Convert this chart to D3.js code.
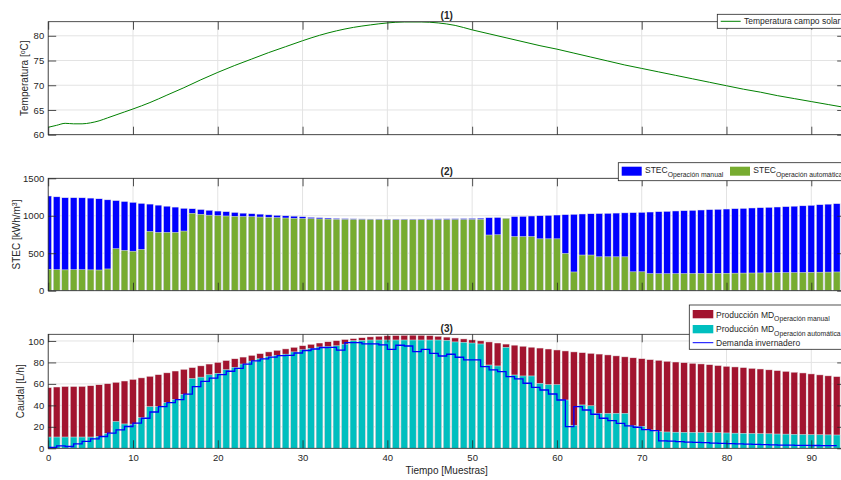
<!DOCTYPE html>
<html>
<head>
<meta charset="utf-8">
<script src="https://cdn.jsdelivr.net/npm/d3@7"></script>
<style>
body { margin: 0; overflow: hidden; background: #fff; }
text { font-family: "Liberation Sans", Arial, sans-serif; fill: #262626; }
</style>
</head>
<body>
<svg id="chart" width="841" height="480"></svg>
<script>
// (1) temperatura campo solar
var tempX = [0, 1, 2, 3, 4, 5, 6, 7, 8, 9, 10, 12, 14, 16, 18, 20, 22, 24, 26, 28, 30, 32, 34, 36, 38, 40,
             42, 44, 46, 48, 50, 52, 54, 56, 58, 60, 62, 64, 66, 68, 70, 72, 74, 76, 78, 80, 82, 84, 86, 88, 90, 92, 94];
var tempY = [61.5, 61.9, 62.3, 62.2, 62.2, 62.4, 62.8, 63.4, 64.0, 64.6, 65.2, 66.5, 68.0, 69.5, 71.1, 72.6, 74.0, 75.3, 76.6, 77.8, 79.0, 80.1, 81.0, 81.7, 82.2, 82.6,
             82.8, 82.8, 82.6, 82.1, 81.2, 80.4, 79.6, 78.8, 78.0, 77.3, 76.5, 75.7, 74.9, 74.1, 73.4, 72.7, 72.0, 71.3, 70.6, 69.9, 69.2, 68.6, 67.9, 67.3, 66.7, 66.1, 65.5];

// (2) STEC [kWh/m3], una barra por muestra
var stecManual = [1264, 1253, 1241, 1241, 1240, 1236, 1227, 1213, 1203, 1191,
                  1180, 1166, 1156, 1142, 1128, 1116, 1100, 1094, 1084, 1074,
                  1063, 1055, 1045, 1035, 1028, 1022, 1013, 1007, 1000, 995,
                  988, 980, 975, 970, 965, 962, 960, 958, 957, 957,
                  956, 956, 956, 956, 957, 958, 959, 960, 961, 963,
                  965, 968, 975, 978, 968, 990, 993, 997, 1001, 1006,
                  1010, 1015, 1020, 1024, 1027, 1030, 1033, 1036, 1039, 1042,
                  1046, 1050, 1055, 1059, 1064, 1068, 1073, 1077, 1082, 1086,
                  1090, 1095, 1099, 1104, 1108, 1113, 1117, 1122, 1128, 1133,
                  1140, 1148, 1155, 1162];
var stecAuto = [285, 280, 278, 280, 280, 278, 276, 290, 560, 538,
                527, 550, 790, 778, 778, 778, 796, 1033, 1020, 1008,
                1001, 997, 993, 990, 987, 983, 979, 975, 970, 966,
                963, 961, 958, 956, 953, 952, 951, 950, 950, 949,
                948, 947, 947, 947, 947, 948, 948, 949, 950, 950,
                951, 952, 743, 746, 966, 722, 722, 722, 692, 692,
                692, 497, 250, 476, 476, 452, 452, 452, 452, 252,
                252, 228, 226, 226, 227, 228, 229, 230, 231, 232,
                233, 234, 235, 236, 237, 238, 240, 241, 242, 244,
                245, 247, 248, 250];

// (3) caudal [L/h]
var prodManual = [56.5, 57.1, 57.6, 57.6, 57.7, 58.3, 59.2, 60.2, 61.5, 62.7,
                  64.2, 65.6, 67.1, 68.6, 70.3, 72.0, 73.6, 75.2, 76.8, 78.5,
                  80.1, 81.8, 83.4, 85.0, 86.6, 88.2, 89.8, 91.3, 92.6, 94.1,
                  95.6, 96.9, 98.1, 99.3, 100.3, 101.4, 102.2, 103.0, 103.8, 104.4,
                  104.8, 105.1, 105.3, 105.4, 105.3, 105.0, 104.4, 103.6, 102.8, 101.9,
                  101.0, 100.1, 99.1, 98.1, 97.1, 96.1, 95.1, 94.2, 93.4, 92.5,
                  91.6, 90.7, 89.8, 89.1, 88.5, 87.8, 87.0, 86.1, 85.2, 84.3,
                  83.5, 82.6, 82.0, 81.1, 80.4, 79.8, 79.2, 78.6, 77.9, 77.1,
                  76.4, 75.8, 75.2, 74.5, 73.9, 73.1, 72.4, 71.7, 70.9, 70.2,
                  69.3, 68.4, 67.5, 66.8];
var prodAuto = [10.5, 10.5, 10.5, 10.5, 10.5, 10.5, 11.0, 14.0, 25.0, 22.7,
                22.5, 28.5, 38.8, 38.8, 42.5, 45.5, 50.3, 65.0, 66.3, 68.5,
                69.9, 73.2, 75.5, 78.5, 81.2, 83.4, 85.3, 86.7, 87.7, 89.8,
                91.8, 93.1, 94.4, 95.0, 95.5, 97.0, 100.3, 100.6, 100.9, 100.9,
                100.9, 100.9, 100.9, 100.9, 100.9, 100.9, 100.9, 100.6, 99.1, 98.8,
                98.1, 97.2, 77.6, 76.7, 94.1, 68.3, 67.4, 67.4, 60.6, 59.3,
                59.3, 45.0, 21.5, 40.4, 39.6, 32.6, 32.6, 32.6, 32.6, 21.0,
                20.5, 17.1, 15.5, 15.2, 15.0, 14.9, 14.8, 14.7, 14.6, 14.5,
                14.3, 14.1, 14.0, 13.8, 13.6, 13.5, 13.3, 13.2, 13.0, 12.9,
                12.7, 12.6, 12.5, 12.4];
// demanda: un escalon por intervalo [k, k+1]
var demanda = [0.8, 2.2, 1.7, 4.2, 6.5, 8.8, 11.0, 14.2, 17.2, 20.3,
               23.4, 28.0, 33.8, 38.8, 42.5, 45.4, 50.5, 57.4, 62.4, 65.4,
               68.6, 71.8, 74.5, 78.4, 81.5, 83.3, 85.0, 86.4, 86.6, 88.8,
               91.1, 92.5, 93.9, 94.0, 91.5, 98.4, 98.4, 97.2, 97.2, 96.3,
               92.2, 96.0, 95.3, 90.0, 92.2, 88.5, 86.0, 87.6, 84.8, 82.3,
               82.3, 76.1, 73.0, 71.4, 66.8, 64.6, 60.6, 56.8, 54.3, 50.6,
               45.0, 20.2, 38.8, 35.7, 31.7, 28.0, 25.8, 23.3, 20.8, 19.6,
               17.4, 16.5, 7.0, 6.6, 6.2, 5.8, 5.5, 5.2, 4.9, 4.6,
               4.4, 4.1, 3.9, 3.6, 3.4, 3.2, 3.0, 2.9, 2.8, 2.7,
               2.6, 2.5, 2.4];

var xTicks = [0, 10, 20, 30, 40, 50, 60, 70, 80, 90];
var tempTicks = [60, 65, 70, 75, 80];
var stecTicks = [0, 500, 1000, 1500];
var caudalTicks = [0, 20, 40, 60, 80, 100];

var svg = d3.select('#chart');
var axisColor = '#262626';
var gridColor = '#e3e3e3';

// the figure is cut at the right, the axes go a bit past 841px
var x = d3.scaleLinear().domain([0, 94]).range([48.2, 845.2]);
var barWidth = (x(1) - x(0)) * 0.8;

function makePanel(top, bottom, yDomain, yTicks, id) {
    var y = d3.scaleLinear().domain(yDomain).range([bottom, top]);
    var g = svg.append('g');

    g.selectAll(null).data(xTicks).enter().append('line')
        .attr('x1', function(d) { return x(d); })
        .attr('x2', function(d) { return x(d); })
        .attr('y1', top).attr('y2', bottom)
        .attr('stroke', gridColor).attr('stroke-width', 1);
    g.selectAll(null).data(yTicks).enter().append('line')
        .attr('x1', x.range()[0]).attr('x2', x.range()[1])
        .attr('y1', function(d) { return y(d); })
        .attr('y2', function(d) { return y(d); })
        .attr('stroke', gridColor).attr('stroke-width', 1);

    svg.append('clipPath').attr('id', id).append('rect')
        .attr('x', x.range()[0]).attr('y', top)
        .attr('width', x.range()[1] - x.range()[0]).attr('height', bottom - top);

    var plot = g.append('g').attr('clip-path', 'url(#' + id + ')');
    return { y: y, g: g, plot: plot, top: top, bottom: bottom, ticks: yTicks };
}

function styleAxis(sel) {
    sel.select('.domain').remove();
    sel.selectAll('.tick line').attr('stroke', axisColor).attr('stroke-width', 0.8);
    sel.selectAll('.tick text').attr('fill', axisColor).style('font-size', '9.5px')
        .style('font-family', '"Liberation Sans", Arial, sans-serif');
}

function drawAxes(p, showXLabels) {
    var g = svg.append('g');
    var xb = d3.axisBottom(x).tickValues(xTicks).tickSize(-8).tickPadding(5.5);
    if (!showXLabels) xb.tickFormat('');
    g.append('g').attr('transform', 'translate(0,' + p.bottom + ')').call(xb).call(styleAxis);
    g.append('g').attr('transform', 'translate(0,' + p.top + ')')
        .call(d3.axisTop(x).tickValues(xTicks).tickSize(-8).tickFormat('')).call(styleAxis);
    g.append('g').attr('transform', 'translate(' + x.range()[0] + ',0)')
        .call(d3.axisLeft(p.y).tickValues(p.ticks).tickSize(-8).tickPadding(4).tickFormat(d3.format('d')))
        .call(styleAxis);
    g.append('g').attr('transform', 'translate(' + x.range()[1] + ',0)')
        .call(d3.axisRight(p.y).tickValues(p.ticks).tickSize(-8).tickFormat('')).call(styleAxis);

    g.append('rect')
        .attr('x', x.range()[0]).attr('y', p.top)
        .attr('width', x.range()[1] - x.range()[0]).attr('height', p.bottom - p.top)
        .attr('fill', 'none').attr('stroke', axisColor).attr('stroke-width', 0.8);
}

function drawBars(p, values, color) {
    p.plot.selectAll(null).data(values).enter().append('rect')
        .attr('x', function(d, i) { return x(i) - barWidth / 2; })
        .attr('y', function(d) { return p.y(d); })
        .attr('width', barWidth)
        .attr('height', function(d) { return p.bottom - p.y(d); })
        .attr('fill', color)
        .attr('stroke', '#ececec')
        .attr('stroke-width', 0.5);
}

function title(text, y) {
    svg.append('text').attr('x', (x.range()[0] + x.range()[1]) / 2).attr('y', y)
        .attr('text-anchor', 'middle').style('font-size', '10px').style('font-weight', 'bold')
        .text(text);
}

function yLabel(p, xPos) {
    return svg.append('text')
        .attr('transform', 'translate(' + xPos + ',' + ((p.top + p.bottom) / 2) + ') rotate(-90)')
        .attr('text-anchor', 'middle').style('font-size', '10px');
}

function legendBox(x0, y0, w, h) {
    svg.append('rect').attr('x', x0).attr('y', y0).attr('width', w).attr('height', h)
        .attr('fill', '#fff').attr('stroke', axisColor).attr('stroke-width', 0.8);
}

function legendText(x0, y0, main, sub) {
    var t = svg.append('text').attr('x', x0).attr('y', y0).style('font-size', '8.5px').text(main);
    if (sub) {
        t.append('tspan').attr('dy', 3.5).style('font-size', '6.8px').text(sub);
    }
    return t;
}

// ---------- (1) ----------
var p1 = makePanel(21.7, 134.7, [60, 82.85], tempTicks, 'clip1');
var tempLine = d3.line()
    .x(function(d, i) { return x(tempX[i]); })
    .y(function(d) { return p1.y(d); })
    .curve(d3.curveMonotoneX);
p1.plot.append('path').datum(tempY)
    .attr('d', tempLine)
    .attr('fill', 'none').attr('stroke', '#008000').attr('stroke-width', 1);
drawAxes(p1, false);
title('(1)', 19);
var l1 = yLabel(p1, 28);
l1.text('Temperatura [');
l1.append('tspan').attr('dy', -3.5).style('font-size', '7px').text('o');
l1.append('tspan').attr('dy', 3.5).text('C]');

legendBox(717.3, 14.3, 140, 14);
svg.append('line').attr('x1', 720.7).attr('x2', 740.7).attr('y1', 21.3).attr('y2', 21.3)
    .attr('stroke', '#008000').attr('stroke-width', 1);
legendText(744, 24.3, 'Temperatura campo solar');

// ---------- (2) ----------
var p2 = makePanel(178.3, 290.7, [0, 1500], stecTicks, 'clip2');
drawBars(p2, stecManual, '#0000ff');
drawBars(p2, stecAuto, '#77ac30');
drawAxes(p2, false);
title('(2)', 175);
var l2 = yLabel(p2, 20);
l2.text('STEC [kWh/m');
l2.append('tspan').attr('dy', -3.5).style('font-size', '7px').text('3');
l2.append('tspan').attr('dy', 3.5).text(']');

legendBox(618.3, 162.7, 240, 18);
svg.append('rect').attr('x', 621.7).attr('y', 166.7).attr('width', 20).attr('height', 9).attr('fill', '#0000ff');
legendText(645, 173.3, 'STEC', 'Operación manual');
svg.append('rect').attr('x', 730).attr('y', 166.7).attr('width', 20).attr('height', 9).attr('fill', '#77ac30');
legendText(753.3, 173.3, 'STEC', 'Operación automática');

// ---------- (3) ----------
var p3 = makePanel(334.3, 448.3, [0, 106.2], caudalTicks, 'clip3');
drawBars(p3, prodManual, '#a2142f');
drawBars(p3, prodAuto, '#00bfbf');
var stepPoints = demanda.map(function(d, k) { return [k, d]; });
stepPoints.push([demanda.length, demanda[demanda.length - 1]]);
var stairs = d3.line()
    .x(function(d) { return x(d[0]); })
    .y(function(d) { return p3.y(d[1]); })
    .curve(d3.curveStepAfter);
p3.plot.append('path').datum(stepPoints)
    .attr('d', stairs)
    .attr('fill', 'none').attr('stroke', '#0000ff').attr('stroke-width', 1.3);
drawAxes(p3, true);
title('(3)', 332);
yLabel(p3, 24).text('Caudal [L/h]');
svg.append('text').attr('x', (x.range()[0] + x.range()[1]) / 2).attr('y', 474)
    .attr('text-anchor', 'middle').style('font-size', '10px').text('Tiempo [Muestras]');

legendBox(689.3, 305, 170, 44.3);
svg.append('rect').attr('x', 692.7).attr('y', 310).attr('width', 20.6).attr('height', 8.3).attr('fill', '#a2142f');
legendText(716, 317.5, 'Producción MD', 'Operación manual');
svg.append('rect').attr('x', 692.7).attr('y', 325).attr('width', 20.6).attr('height', 8.3).attr('fill', '#00bfbf');
legendText(716, 332, 'Producción MD', 'Operación automática');
svg.append('line').attr('x1', 692.7).attr('x2', 713.3).attr('y1', 342.7).attr('y2', 342.7)
    .attr('stroke', '#0000ff').attr('stroke-width', 1);
legendText(716, 345.7, 'Demanda invernadero');
</script>
</body>
</html>
